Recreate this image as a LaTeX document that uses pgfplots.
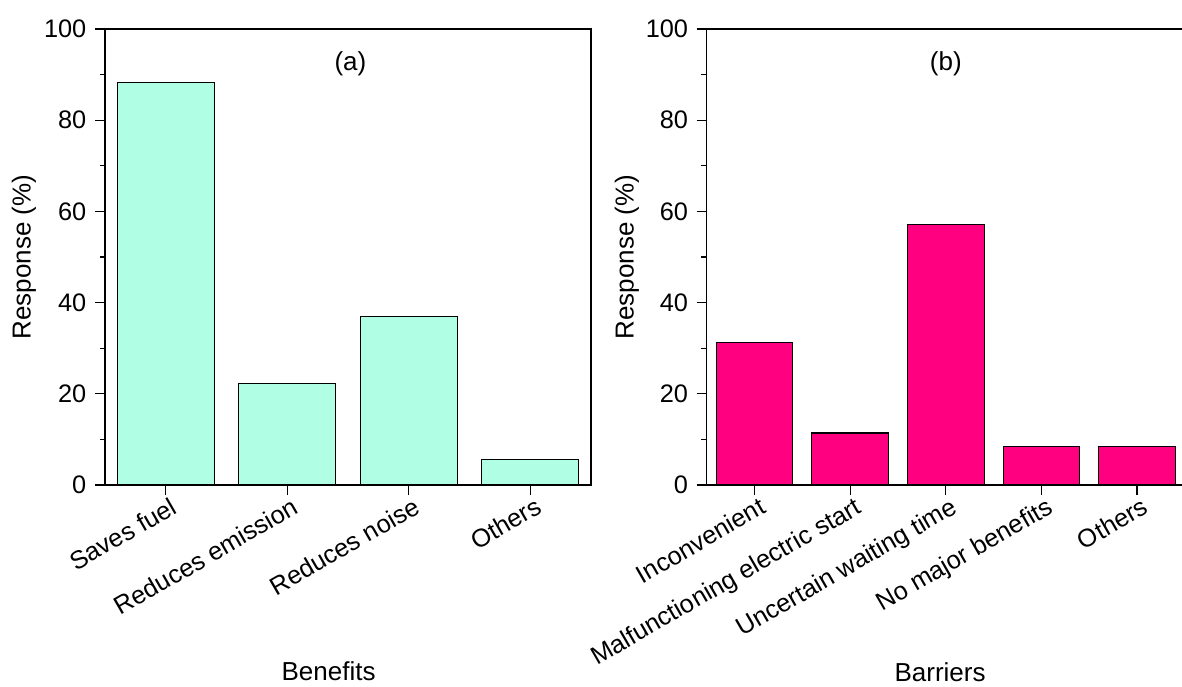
\documentclass[border=0pt]{standalone}
\usepackage{fontspec}
\setmainfont{Liberation Sans}
\usepackage{pgfplots}
\pgfplotsset{compat=1.18}
\definecolor{aquabar}{RGB}{176,255,228}
\definecolor{pinkbar}{RGB}{255,0,128}
\begin{document}
\fontsize{19}{23}\selectfont
\begin{tikzpicture}
\pgfplotsset{
  mystyle/.style={
    scale only axis, height=342pt,
    ymin=0, ymax=100, ytick={0,20,...,100}, minor y tick num=1,
    yticklabel={\fontsize{19}{23}\selectfont\pgfmathprintnumber[assume math mode=true]{\tick}},
    axis line style={line width=1pt},
    tick align=outside, ytick pos=left, xtick pos=bottom,
    major tick length=7.5pt, minor tick length=4pt,
    every tick/.style={black, line width=0.9pt},
    /pgf/number format/assume math mode=true,
    tick label style={font=\fontsize{19}{23}\selectfont},
    label style={font=\fontsize{19.5}{23}\selectfont},
    ybar, bar width=0.8, xtick=data,
    xticklabel style={rotate=30, anchor=north east, inner sep=2pt, xshift=4pt},
    ylabel={Response (\%)},
    ylabel style={at={(axis description cs:-0.167,0.5)}, anchor=center},
  }
}
\begin{axis}[mystyle, width=364.5pt, xmin=-0.5, xmax=3.5,
  xticklabels={Saves fuel, Reduces emission, Reduces noise, Others},
  xlabel={Benefits},
  xlabel style={at={(axis description cs:0.46,-0.408)}, anchor=center}]
\addplot[fill=aquabar, draw=black, line width=0.8pt] coordinates {(0,88.2) (1,22.2) (2,36.9) (3,5.5)};
\node[font=\fontsize{19.5}{23}\selectfont] at (axis description cs:0.505,0.924) {(a)};
\end{axis}
\begin{axis}[mystyle, at={(451.3pt,0pt)}, width=358.6pt, xmin=-0.5, xmax=4.5,
  xticklabels={Inconvenient, Malfunctioning electric start, Uncertain waiting time, No major benefits, Others},
  xlabel={Barriers},
  xlabel style={at={(axis description cs:0.488,-0.411)}, anchor=center}]
\addplot[fill=pinkbar, draw=black, line width=0.8pt] coordinates {(0,31.3) (1,11.4) (2,57.1) (3,8.5) (4,8.5)};
\node[font=\fontsize{19.5}{23}\selectfont] at (axis description cs:0.5,0.924) {(b)};
\end{axis}
\pgfresetboundingbox
\useasboundingbox (-78.75pt,-150.75pt) rectangle (807.75pt,363.75pt);
\end{tikzpicture}
\end{document}
